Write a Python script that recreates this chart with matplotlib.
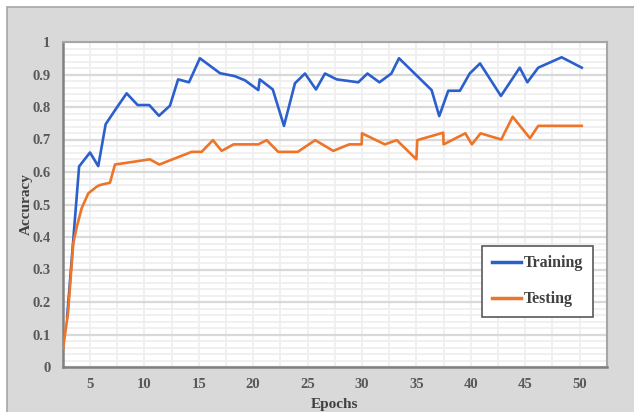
import numpy as np
import matplotlib
matplotlib.use("Agg")
import matplotlib.pyplot as plt
from matplotlib.patches import Rectangle
from matplotlib.ticker import MultipleLocator

# values
train_x = [2.9, 4.0, 5.0, 5.76, 6.44, 7.4, 8.37, 9.38, 10.45, 11.34, 12.35, 13.1, 14.1, 15.1,
           16.95, 18.3, 19.25, 20.47, 20.6, 21.8, 22.83, 23.84, 24.76, 25.77, 26.6, 27.67,
           29.66, 30.5, 31.6, 32.7, 33.4, 36.4, 37.1, 37.93, 39.0, 39.9, 40.85, 42.77, 44.5,
           45.2, 46.2, 48.35, 50.2]
train_acc = [0.154, 0.617, 0.66, 0.618, 0.747, 0.795, 0.842, 0.806, 0.806, 0.773, 0.804, 0.885,
             0.876, 0.95, 0.904, 0.895, 0.882, 0.852, 0.885, 0.854, 0.742, 0.873, 0.903, 0.854,
             0.903, 0.885, 0.876, 0.903, 0.876, 0.903, 0.95, 0.852, 0.772, 0.85, 0.85, 0.903,
             0.934, 0.834, 0.921, 0.876, 0.921, 0.953, 0.921]

test_x = [2.52, 2.98, 3.3, 3.46, 3.78, 4.23, 4.84, 5.62, 5.92, 6.84, 7.3, 10.5, 11.37, 14.35,
          15.26, 16.3, 17.1, 18.2, 20.47, 21.24, 22.3, 24.1, 25.7, 27.36, 28.83, 29.97, 30.0,
          32.1, 33.2, 35.0, 35.08, 37.47, 37.5, 39.5, 40.1, 40.9, 42.8, 43.85, 45.44, 46.2, 50.2]
test_acc = [0.055, 0.166, 0.308, 0.38, 0.43, 0.488, 0.534, 0.555, 0.56, 0.567, 0.623, 0.639,
            0.623, 0.662, 0.662, 0.698, 0.665, 0.685, 0.685, 0.698, 0.662, 0.662, 0.698, 0.665,
            0.685, 0.685, 0.719, 0.685, 0.698, 0.639, 0.698, 0.721, 0.685, 0.719, 0.685, 0.719,
            0.70, 0.77, 0.704, 0.742, 0.742]

x_ticks = [5, 10, 15, 20, 25, 30, 35, 40, 45, 50]
y_ticks = [0, 0.1, 0.2, 0.3, 0.4, 0.5, 0.6, 0.7, 0.8, 0.9, 1]
y_tick_labels = ["0", "0.1", "0.2", "0.3", "0.4", "0.5", "0.6", "0.7", "0.8", "0.9", "1"]

serif = ["Liberation Serif", "DejaVu Serif"]

fig = plt.figure(figsize=(6.34, 4.12), dpi=100)
fig.patch.set_facecolor("white")
# grey chart panel behind the axes
panel = Rectangle((7 / 634, -0.01), 1, 1.01 - 7 / 412, transform=fig.transFigure,
                  facecolor="#d9d9d9", edgecolor="#a6a6a6", linewidth=1.2, zorder=-10)
fig.add_artist(panel)

ax = fig.add_axes([63 / 634, 45 / 412, 544 / 634, 325 / 412])
ax.set_facecolor("white")

ax.plot(train_x, train_acc, color="#2a5fcc", linewidth=1.9, label="Training", zorder=3)
ax.plot(test_x, test_acc, color="#ee7428", linewidth=1.9, label="Testing", zorder=3)

ax.set_xlim(2.52, 52.52)
ax.set_ylim(0, 1)
ax.set_xticks(x_ticks)
ax.xaxis.set_minor_locator(MultipleLocator(2.5))
ax.set_yticks(y_ticks)
ax.set_yticklabels(y_tick_labels)
ax.yaxis.set_minor_locator(MultipleLocator(0.02))

ax.grid(which="minor", axis="both", color="#efefef", linewidth=1.3, zorder=0)
ax.grid(which="major", axis="x", color="#efefef", linewidth=1.3, zorder=0)
ax.grid(which="major", axis="y", color="#d9d9d9", linewidth=1.6, zorder=1)
ax.set_axisbelow(True)

ax.tick_params(which="both", length=0)
ax.tick_params(axis="y", pad=9)
ax.tick_params(axis="x", pad=8)
for lab in ax.get_xticklabels() + ax.get_yticklabels():
    lab.set_family(serif)
    lab.set_fontweight("bold")
    lab.set_fontsize(10.5)
    lab.set_color("#595959")

for side in ["top", "right"]:
    ax.spines[side].set_color("#a6a6a6")
    ax.spines[side].set_linewidth(1.5)
for side in ["left", "bottom"]:
    ax.spines[side].set_color("#808080")
    ax.spines[side].set_linewidth(1.8)

ax.set_xlabel("Epochs", family=serif, fontweight="bold", fontsize=11, color="#404040", labelpad=5)
ax.set_ylabel("Accuracy", family=serif, fontweight="bold", fontsize=11, color="#404040", labelpad=-0.5)

leg = ax.legend(loc="upper left", bbox_to_anchor=(0.771, 0.373), borderaxespad=0,
                prop={"family": serif, "weight": "bold", "size": 11.5},
                handlelength=1.8, handletextpad=0.2, labelspacing=1.25,
                borderpad=0.6, fancybox=False, framealpha=1, edgecolor="#595959")
leg.get_frame().set_linewidth(1.2)
for t in leg.get_texts():
    t.set_color("#404040")
for h in leg.get_lines():
    h.set_linewidth(2.5)

fig.savefig("out.png", dpi=100, facecolor=fig.get_facecolor())
